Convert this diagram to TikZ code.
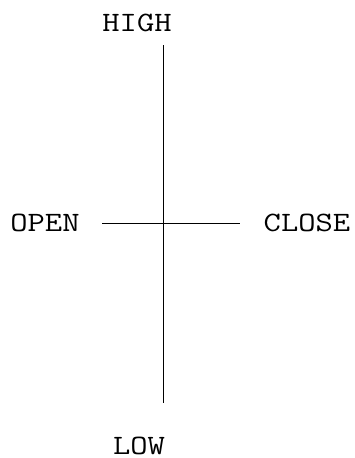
\documentclass[tikz,border=0pt]{standalone}
\usepackage{fontspec}
\setmonofont[FakeStretch=1.2]{Latin Modern Mono}
\usetikzlibrary{positioning}

\begin{document}
\begin{tikzpicture}[
    x=1pt, y=-1pt,
    label/.style={inner sep=0pt, anchor=base, font=\ttfamily\fontsize{28}{28}\selectfont},
    bar/.style={line width=1pt}
]
    \useasboundingbox (0,0) rectangle (355,458);

    % Ends of the bar
    \coordinate (H) at (163, 45);
    \coordinate (L) at (163, 403);
    \coordinate (O) at (102, 223);
    \coordinate (C) at (240, 223);

    % Labels
    \node[label] (HIGH) at (137, 31) {HIGH};
    \node[label] (OPEN) at (45, 231) {OPEN};
    \node[label] (CLOSE) at (307, 231) {CLOSE};
    \node[label] (LOW) at (139, 454) {LOW};

    % High-low range and open/close ticks
    \draw[bar] (H) -- (L);
    \draw[bar] (O) -- (C);

\end{tikzpicture}
\end{document}
